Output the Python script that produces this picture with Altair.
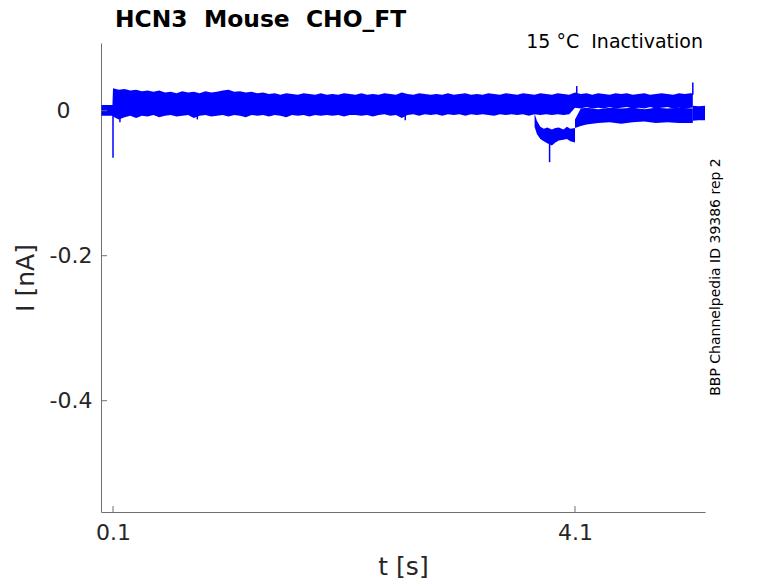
import altair as alt
import pandas as pd

# sweep envelope (upper traces)
main_t = [0.0, 0.095,
          0.10, 0.15, 0.20, 0.25, 0.30, 0.35, 0.40, 0.45, 0.50, 0.55,
          0.60, 0.65, 0.70, 0.75, 0.80, 0.85, 0.90, 0.95, 1.00, 1.05,
          1.10, 1.15, 1.20, 1.25, 1.30, 1.35, 1.40, 1.45, 1.50, 1.55,
          1.60, 1.65, 1.70, 1.75, 1.80, 1.85, 1.90, 1.95, 2.00, 2.05,
          2.10, 2.15, 2.20, 2.25, 2.30, 2.35, 2.40, 2.45, 2.50, 2.55,
          2.60, 2.65, 2.70, 2.75, 2.80, 2.85, 2.90, 2.95, 3.00, 3.05,
          3.10, 3.15, 3.20, 3.25, 3.30, 3.35, 3.40, 3.45, 3.50, 3.55,
          3.60, 3.65, 3.70, 3.75, 3.80, 3.85, 3.90, 3.95, 4.00, 4.05,
          4.10, 4.15, 4.20, 4.25, 4.30, 4.35, 4.40, 4.45, 4.50, 4.55,
          4.60, 4.65, 4.70, 4.75, 4.80, 4.85, 4.90, 4.95, 5.00, 5.05,
          5.10, 5.12]
main_hi = [0.008, 0.008,
           0.031, 0.029, 0.030, 0.028, 0.029, 0.027, 0.028, 0.026, 0.028, 0.025,
           0.026, 0.024, 0.027, 0.025, 0.026, 0.024, 0.027, 0.025, 0.026, 0.028,
           0.029, 0.026, 0.027, 0.025, 0.026, 0.024, 0.025, 0.023, 0.024, 0.022,
           0.024, 0.023, 0.022, 0.024, 0.023, 0.022, 0.024, 0.022, 0.023, 0.022,
           0.024, 0.023, 0.022, 0.024, 0.022, 0.023, 0.022, 0.024, 0.023, 0.022,
           0.025, 0.023, 0.022, 0.024, 0.023, 0.022, 0.023, 0.022, 0.024, 0.022,
           0.023, 0.024, 0.022, 0.023, 0.022, 0.024, 0.023, 0.022, 0.024, 0.023,
           0.022, 0.024, 0.023, 0.022, 0.024, 0.023, 0.022, 0.024, 0.023, 0.022,
           0.025, 0.023, 0.024, 0.022, 0.024, 0.023, 0.022, 0.024, 0.023, 0.024,
           0.022, 0.023, 0.024, 0.022, 0.023, 0.024, 0.023, 0.022, 0.024, 0.023,
           0.024, 0.024]
main_lo = [-0.007, -0.007,
           -0.008, -0.012, -0.009, -0.007, -0.010, -0.007, -0.008, -0.006, -0.009, -0.007,
           -0.006, -0.008, -0.007, -0.006, -0.010, -0.007, -0.006, -0.008, -0.007, -0.006,
           -0.008, -0.006, -0.007, -0.009, -0.006, -0.007, -0.006, -0.008, -0.006, -0.007,
           -0.009, -0.006, -0.007, -0.006, -0.008, -0.006, -0.007, -0.006, -0.007, -0.006,
           -0.008, -0.006, -0.006, -0.007, -0.006, -0.008, -0.006, -0.005, -0.007, -0.006,
           -0.010, -0.006, -0.005, -0.007, -0.005, -0.006, -0.005, -0.007, -0.005, -0.006,
           -0.005, -0.007, -0.005, -0.006, -0.005, -0.006, -0.007, -0.005, -0.006, -0.005,
           -0.006, -0.005, -0.007, -0.005, -0.006, -0.005, -0.006, -0.005, -0.006, -0.005,
           0.004, 0.003, 0.005, 0.003, 0.004, 0.003, 0.005, 0.003, 0.004, 0.005,
           0.003, 0.004, 0.003, 0.005, 0.003, 0.004, 0.005, 0.003, 0.004, 0.003,
           0.004, 0.004]

# inward current sweep around 3.8 s
dip_t = [3.75, 3.77, 3.8, 3.83, 3.86, 3.9, 3.93, 3.96, 4.0, 4.03, 4.06, 4.1]
dip_hi = [-0.004, -0.014, -0.022, -0.025, -0.023, -0.026, -0.024, -0.023, -0.026, -0.022, -0.025, -0.024]
dip_lo = [-0.022, -0.032, -0.039, -0.042, -0.045, -0.048, -0.044, -0.041, -0.040, -0.039, -0.042, -0.044]

# lower traces after 4.1 s
low_t = [4.1, 4.15, 4.2, 4.3, 4.4, 4.5, 4.6, 4.7, 4.8, 4.9, 5.0, 5.12]
low_hi = [-0.012, 0.003, 0.004, 0.002, 0.004, 0.003, 0.004, 0.002, 0.004, 0.003, 0.004, 0.003]
low_lo = [-0.024, -0.021, -0.019, -0.017, -0.016, -0.018, -0.016, -0.015, -0.017, -0.016, -0.017, -0.017]

# last piece of the sweeps
tail_t = [5.12, 5.17, 5.23]
tail_hi = [0.007, 0.006, 0.007]
tail_lo = [-0.014, -0.013, -0.013]

# single-sample spikes
spike_t = [0.1, 0.16, 0.83, 2.63, 3.88, 4.115, 5.12]
spike_a = [0.0, -0.005, -0.005, -0.005, -0.035, 0.022, 0.022]
spike_b = [-0.065, -0.016, -0.012, -0.013, -0.071, 0.034, 0.039]

x_ticks = [0.1, 4.1]
y_ticks = [0.0, -0.2, -0.4]

BLUE = '#0000ff'
INK = '#262626'
AXIS = '#707070'
W, H = 604, 469
NB = '\u00a0'

band = pd.concat([
    pd.DataFrame({'t': main_t, 'hi': main_hi, 'lo': main_lo, 'seg': 'main'}),
    pd.DataFrame({'t': dip_t, 'hi': dip_hi, 'lo': dip_lo, 'seg': 'dip'}),
    pd.DataFrame({'t': low_t, 'hi': low_hi, 'lo': low_lo, 'seg': 'low'}),
    pd.DataFrame({'t': tail_t, 'hi': tail_hi, 'lo': tail_lo, 'seg': 'tail'}),
])
spikes = pd.DataFrame({'t': spike_t, 'a': spike_a, 'b': spike_b})

xscale = alt.Scale(domain=[-0.004, 5.2255], nice=False, zero=False)
yscale = alt.Scale(domain=[-0.5535, 0.0934], nice=False, zero=False)

x_axis = alt.Axis(
    values=x_ticks, format='.1f', ticks=False, tickSize=0, grid=False,
    labelPadding=10, labelFontSize=22, titleFontSize=25,
    titlePadding=11, titleFontWeight='normal')
y_axis = alt.Axis(
    values=y_ticks, ticks=False, tickSize=0, grid=False,
    labelPadding={'condition': {'test': 'datum.value === 0', 'value': 31}, 'value': 9},
    labelFontSize=22, titleFontSize=25, titlePadding=11,
    titleFontWeight='normal',
    labelExpr="datum.value === 0 ? '0' : replace(format(datum.value, '.1f'), '\u2212', '-')")


def xenc(field):
    return alt.X(field, scale=xscale, axis=x_axis, title='t [s]')


def yenc(field):
    return alt.Y(field, scale=yscale, axis=y_axis, title='I [nA]')


traces = alt.Chart(band).mark_area(color=BLUE, clip=True).encode(
    xenc('t:Q'), yenc('hi:Q'), alt.Y2('lo:Q'), detail='seg:N'
)

spike_rules = alt.Chart(spikes).mark_rule(color=BLUE, strokeWidth=1.5, clip=True).encode(
    xenc('t:Q'), yenc('a:Q'), alt.Y2('b:Q')
)

xtick_marks = alt.Chart(pd.DataFrame({'t': x_ticks})).mark_rule(color=AXIS, strokeWidth=1).encode(
    xenc('t:Q'), y=alt.value(H), y2=alt.value(H - 6)
)
ytick_marks = alt.Chart(pd.DataFrame({'v': y_ticks})).mark_rule(color=AXIS, strokeWidth=1).encode(
    yenc('v:Q'), x=alt.value(0), x2=alt.value(6)
)

title = alt.Chart(pd.DataFrame({'s': ['HCN3' + NB + ' Mouse' + NB + ' CHO_FT']})).mark_text(
    align='left', baseline='alphabetic', fontSize=23.4, fontWeight='bold', color='black'
).encode(text='s:N', x=alt.value(14), y=alt.value(-16))

cond = alt.Chart(pd.DataFrame({'s': ['15 °C' + NB + ' Inactivation']})).mark_text(
    align='right', baseline='alphabetic', fontSize=19, color='black'
).encode(text='s:N', x=alt.value(602), y=alt.value(5))

ident = alt.Chart(pd.DataFrame({'s': ['BBP Channelpedia ID 39386 rep 2']})).mark_text(
    align='center', baseline='middle', fontSize=14, angle=270, color='black'
).encode(text='s:N', x=alt.value(615), y=alt.value(234))

chart = alt.layer(
    traces, spike_rules, xtick_marks, ytick_marks, title, cond, ident
).properties(
    width=W, height=H,
    autosize=alt.AutoSizeParams(type='none'),
    padding={'left': 93, 'top': 35, 'right': 50, 'bottom': 68}
).configure(
    font='DejaVu Sans'
).configure_view(
    stroke=None
).configure_axis(
    domainColor=AXIS, domainWidth=1, labelColor=INK, titleColor=INK,
    labelFont='DejaVu Sans', titleFont='DejaVu Sans'
)

chart.save('out.html', embed_options={'renderer': 'svg', 'actions': False})
